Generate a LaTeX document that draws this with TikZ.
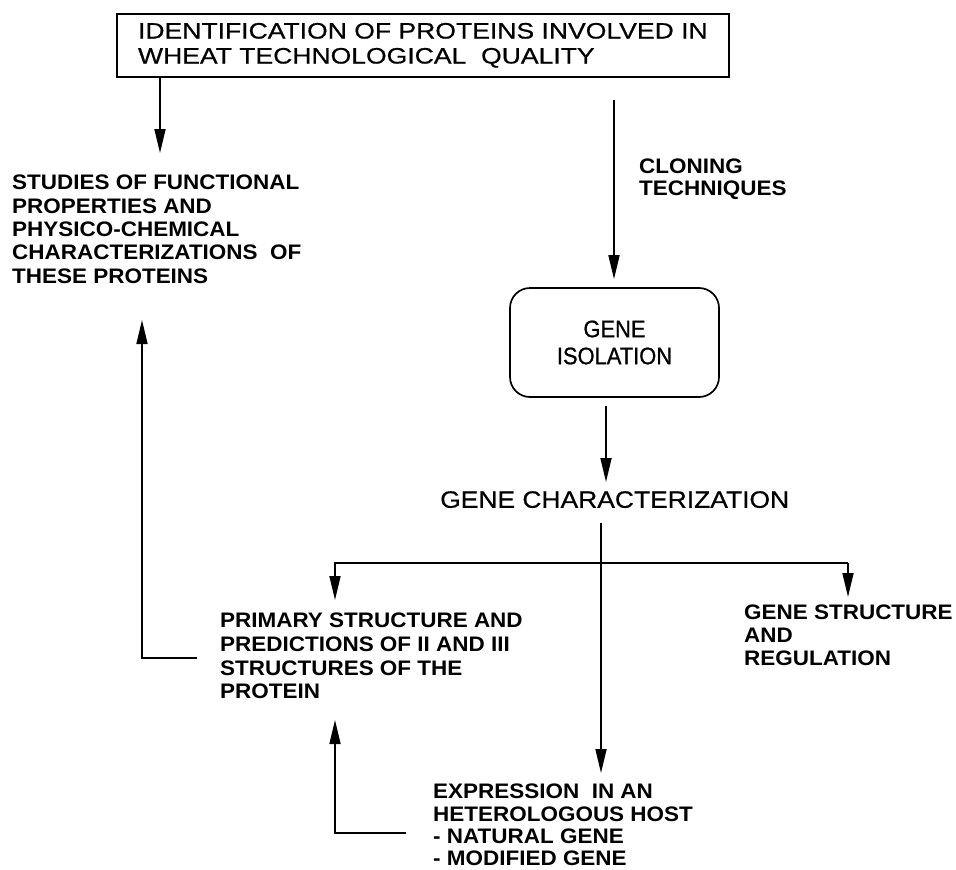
\documentclass[tikz,border=0pt]{standalone}
\usepackage{fontspec}
\setmainfont{Liberation Sans}
\newfontfamily\ttlfont[FakeStretch=1.19,FakeBold=0.6]{Liberation Sans}
\newfontfamily\bodyfont[FakeStretch=1.07]{Liberation Sans}
\newfontfamily\isofont[FakeStretch=0.92,FakeBold=0.8]{Liberation Sans}
\newfontfamily\charfont[FakeStretch=1.115,FakeBold=0.6]{Liberation Sans}
\usetikzlibrary{arrows.meta}
\begin{document}
\begin{tikzpicture}[x=1pt,y=-1pt,
  arr/.style={-{Triangle[length=24pt,width=11pt]}, line width=1.7pt},
  ln/.style={line width=1.7pt},
  txt/.style={inner sep=0pt, anchor=north west, align=left},
  small/.style={txt, font=\bodyfont\bfseries\fontsize{21}{#1}\selectfont},
  small/.default=23.3]
\useasboundingbox (0,0) rectangle (956,870);

% nodes
\node[draw, line width=1.7pt, minimum width=612pt, minimum height=63pt,
      anchor=north west, inner sep=0pt, align=left,
      font=\ttlfont\fontsize{22.3}{25}\selectfont] (title) at (116,13)
  {IDENTIFICATION OF PROTEINS INVOLVED IN\\WHEAT TECHNOLOGICAL\ \ QUALITY};

\node[small=23.3] (studies) at (12,175)
  {STUDIES OF FUNCTIONAL\\PROPERTIES AND\\PHYSICO-CHEMICAL\\CHARACTERIZATIONS\ \ OF\\THESE PROTEINS};

\node[small=22] (cloning) at (639,159) {CLONING\\TECHNIQUES};

\node[draw, line width=1.7pt, rounded corners=20pt, minimum width=209pt,
      minimum height=109pt, align=center,
      font=\isofont\fontsize{23.8}{27}\selectfont] (iso) at (614.5,342.5)
  {GENE\\ISOLATION};

\node[txt, font=\charfont\fontsize{23.7}{28}\selectfont] (char) at (440,491)
  {GENE CHARACTERIZATION};

\node[small=23.7] (primary) at (220,613)
  {PRIMARY STRUCTURE AND\\PREDICTIONS OF II AND III\\STRUCTURES OF THE\\PROTEIN};

\node[small=23] (genestr) at (744,605) {GENE STRUCTURE\\AND\\REGULATION};

\node[small=22.2] (expr) at (433,784)
  {EXPRESSION\ \ IN AN\\HETEROLOGOUS HOST\\- NATURAL GENE\\- MODIFIED GENE};

% coordinates
\coordinate (a1) at (160,153);
\coordinate (c0) at (614,100);
\coordinate (m0) at (601,523);
\coordinate (sl) at (335,563);
\coordinate (sr) at (848,563);
\coordinate (f0) at (197,658);
\coordinate (f1) at (142,320);
\coordinate (g0) at (406,833);
\coordinate (g1) at (335,720);

% connectors
\draw[arr] (title.south -| a1) -- (a1);
\draw[arr, shorten >=8pt] (c0) -- (iso.north -| c0);
\draw[arr, shorten <=8pt, shorten >=9pt] ([xshift=-8.5pt]iso.south) -- ([xshift=-8.5pt]iso.south |- char.north);
\draw[arr, shorten >=11pt] (m0) -- (m0 |- expr.north);
\draw[arr, shorten >=13pt] (sr) -- (sl) -- (sl |- primary.north);
\draw[arr, shorten >=8pt] (sr) -- (sr |- genestr.north);
\draw[arr] (f0) -- (f0 -| f1) -- (f1);
\draw[arr] (g0) -- (g0 -| g1) -- (g1);
\end{tikzpicture}
\end{document}
